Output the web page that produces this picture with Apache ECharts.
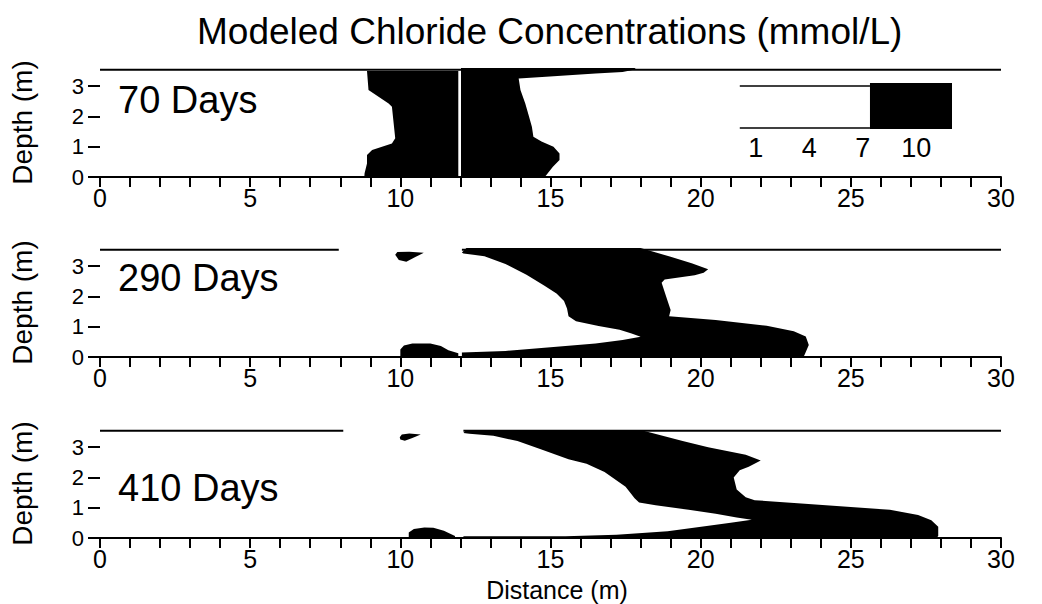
<!DOCTYPE html>
<html>
<head>
<meta charset="utf-8">
<script src="https://cdn.jsdelivr.net/npm/echarts@6/dist/echarts.min.js"></script>
<style>
    html, body { margin: 0; padding: 0; background: #fff; }
    #chart { width: 1042px; height: 604px; }
</style>
</head>
<body>
<div id="chart"></div>
<script>
const panelNames = ['70 Days', '290 Days', '410 Days'];
const depthTicks = [0, 1, 2, 3];
const legendLevels = [1, 4, 7, 10];
// [from, to, class] 0 = below 7 mmol/L, 1 = above
const legendSteps = [[0.1, 7.4, 0], [7.4, 12, 1]];
const topDepth = 3.54;

// water table line segments [fromX, toX]
const topLine70 = [[0.0, 30]];
const topLine290 = [[0.0, 7.95], [12.05, 30]];
const topLine410 = [[0.0, 8.1], [12.1, 30]];

// high concentration zones, [distance, depth]
const plume70Left = [[8.89, 3.5], [11.93, 3.5], [11.93, 0], [8.8, 0], [8.81, 0.12], [8.89, 0.45], [8.89, 0.73],
    [9.06, 0.89], [9.72, 1.11], [9.83, 1.28], [9.72, 2.32], [9.61, 2.43], [8.94, 2.87]];
const plume70Right = [[12.02, 3.6], [17.8, 3.6], [17.85, 3.56], [17.4, 3.47], [16.5, 3.42], [14.85, 3.31], [13.94, 3.25],
    [14.0, 2.87], [14.16, 2.43], [14.27, 2.05], [14.38, 1.66], [14.43, 1.33], [14.7, 1.17], [15.1, 1.0],
    [15.3, 0.78], [15.3, 0.56], [15.08, 0.34], [14.85, 0.05], [14.8, 0], [12.02, 0]];

const plume290Top = [[9.83, 3.38], [9.9, 3.47], [10.3, 3.48], [10.78, 3.44], [10.5, 3.3], [10.2, 3.15], [9.95, 3.2]];
const plume290Bottom = [[10.0, 0], [10.0, 0.25], [10.12, 0.38], [10.4, 0.45], [11.0, 0.45], [11.35, 0.36],
    [11.6, 0.22], [11.93, 0.12], [11.93, 0]];
const plume290Main = [[12.05, 3.45], [12.2, 3.6], [18.0, 3.6], [19.0, 3.31], [19.7, 3.1], [20.25, 2.9], [20.1, 2.78],
    [19.8, 2.7], [18.8, 2.56], [18.7, 2.45], [18.85, 2.0], [19.0, 1.55], [18.95, 1.35], [20.5, 1.22], [22.2, 1.03],
    [23.1, 0.85], [23.5, 0.68], [23.6, 0.4], [23.45, 0.05], [23.4, 0], [12.05, 0], [12.05, 0.15], [13.5, 0.2],
    [15.0, 0.32], [16.5, 0.45], [17.4, 0.56], [18.0, 0.67], [17.7, 0.78], [17.3, 0.9], [16.6, 1.02], [15.85, 1.18],
    [15.6, 1.35], [15.55, 1.6], [15.45, 1.85], [15.2, 2.1], [14.8, 2.35], [14.2, 2.72], [13.5, 3.07], [12.8, 3.33],
    [12.1, 3.42]];

const plume410Top = [[9.98, 3.33], [10.05, 3.42], [10.3, 3.45], [10.68, 3.42], [10.4, 3.3], [10.15, 3.21], [10.0, 3.25]];
const plume410Bottom = [[10.28, 0], [10.28, 0.18], [10.45, 0.3], [10.8, 0.35], [11.1, 0.34], [11.45, 0.24],
    [11.82, 0.07], [11.82, 0]];
const plume410Main = [[12.1, 3.47], [12.2, 3.57], [18.0, 3.57], [19.4, 3.2], [20.25, 3.0], [21.5, 2.75], [22.0, 2.56],
    [21.6, 2.35], [21.3, 2.24], [21.1, 2.0], [21.2, 1.6], [21.5, 1.35], [21.8, 1.25], [23.35, 1.14], [25.0, 1.02],
    [26.3, 0.93], [27.24, 0.76], [27.68, 0.59], [27.91, 0.37], [27.91, 0.07], [27.85, 0], [12.1, 0], [12.1, 0.06],
    [13.2, 0.06], [15.5, 0.06], [17.2, 0.11], [18.9, 0.22], [20.2, 0.4], [21.0, 0.5], [21.7, 0.6], [21.2, 0.68],
    [20.5, 0.8], [19.6, 0.93], [18.5, 1.08], [17.95, 1.17], [17.8, 1.31], [17.5, 1.69], [16.8, 2.18], [16.2, 2.45],
    [15.6, 2.6], [14.7, 2.92], [13.9, 3.2], [13.1, 3.38], [12.3, 3.44]];

const panels = [
    { shapes: [plume70Left, plume70Right], top: topLine70 },
    { shapes: [plume290Top, plume290Bottom, plume290Main], top: topLine290 },
    { shapes: [plume410Top, plume410Bottom, plume410Main], top: topLine410 },
];

const font = "'Liberation Sans', Arial, Helvetica, sans-serif";
const gridTops = [68, 248, 429];
const labelTops = [81, 259, 469];

function plumeSeries(shapes, idx) {
    return {
        type: 'custom',
        xAxisIndex: idx,
        yAxisIndex: idx,
        silent: true,
        clip: true,
        data: shapes.map((s, i) => [s[0][0], s[0][1], i]),
        encode: { x: 0, y: 1 },
        renderItem: (params, api) => ({
            type: 'polygon',
            shape: { points: shapes[api.value(2)].map((p) => api.coord(p)) },
            style: { fill: '#000' },
        }),
    };
}

function topLineSeries(segs, idx) {
    return {
        type: 'custom',
        xAxisIndex: idx,
        yAxisIndex: idx,
        silent: true,
        data: segs.map((s) => [s[0], s[1], topDepth]),
        encode: { x: [0, 1], y: 2 },
        renderItem: (params, api) => {
            const a = api.coord([api.value(0), api.value(2)]);
            const b = api.coord([api.value(1), api.value(2)]);
            return {
                type: 'line',
                shape: { x1: a[0], y1: a[1], x2: b[0], y2: b[1] },
                style: { stroke: '#000', lineWidth: 2 },
            };
        },
    };
}

const tickStyle = { color: '#000', width: 2 };
const xAxes = [0, 1, 2].map((i) => ({
    gridIndex: i,
    type: 'value',
    min: 0,
    max: 30,
    interval: 5,
    axisLine: { lineStyle: tickStyle },
    axisTick: { length: 10, lineStyle: tickStyle },
    minorTick: { show: true, splitNumber: 5, length: 10, lineStyle: tickStyle },
    splitLine: { show: false },
    axisLabel: { color: '#000', fontSize: 25, margin: 8, fontFamily: font },
}));
const yAxes = [0, 1, 2].map((i) => ({
    gridIndex: i,
    type: 'value',
    min: 0,
    max: 3.6,
    axisLine: { show: false },
    axisTick: { show: true, length: 12, customValues: depthTicks, lineStyle: tickStyle },
    axisLabel: { customValues: depthTicks, color: '#000', fontSize: 22, margin: 16, fontFamily: font },
    splitLine: { show: false },
    name: 'Depth (m)',
    nameLocation: 'middle',
    nameGap: 64,
    nameTextStyle: { color: '#000', fontSize: 28, fontFamily: font },
}));

// colour scale
xAxes.push({
    gridIndex: 3,
    type: 'value',
    min: 0,
    max: 12,
    axisLine: { show: false },
    axisTick: { show: false },
    splitLine: { show: false },
    axisLabel: { customValues: legendLevels, color: '#000', fontSize: 27, margin: 5, fontFamily: font },
});
yAxes.push({ gridIndex: 3, type: 'value', min: 0, max: 1, show: false });

const series = [];
panels.forEach((p, i) => {
    series.push(plumeSeries(p.shapes, i));
    series.push(topLineSeries(p.top, i));
});
series.push({
    type: 'custom',
    xAxisIndex: 3,
    yAxisIndex: 3,
    silent: true,
    data: legendSteps,
    encode: { x: [0, 1] },
    renderItem: (params, api) => {
        const p0 = api.coord([api.value(0), 1]);
        const p1 = api.coord([api.value(1), 0]);
        if (api.value(2) === 1) {
            return {
                type: 'rect',
                shape: { x: p0[0], y: p0[1], width: p1[0] - p0[0], height: p1[1] - p0[1] },
                style: { fill: '#000' },
            };
        }
        return {
            type: 'group',
            children: [
                { type: 'line', shape: { x1: p0[0], y1: p0[1] + 3, x2: p1[0], y2: p0[1] + 3 }, style: { stroke: '#000', lineWidth: 1.5 } },
                { type: 'line', shape: { x1: p0[0], y1: p1[1] - 1, x2: p1[0], y2: p1[1] - 1 }, style: { stroke: '#000', lineWidth: 1.5 } },
            ],
        };
    },
});

const chart = echarts.init(document.getElementById('chart'), null, { renderer: 'svg' });
chart.setOption({
    animation: false,
    backgroundColor: '#fff',
    title: [
        {
            text: 'Modeled Chloride Concentrations (mmol/L)',
            left: 197,
            top: 13,
            padding: 0,
            textStyle: { fontSize: 37, fontWeight: 'normal', color: '#000', fontFamily: font },
        },
    ].concat(panelNames.map((n, i) => ({
        text: n,
        left: 118,
        top: labelTops[i],
        padding: 0,
        textStyle: { fontSize: 38, fontWeight: 'normal', color: '#000', fontFamily: font },
    }))),
    grid: gridTops.map((t) => ({ left: 100, width: 901, top: t, height: 109 }))
        .concat([{ left: 738, width: 214, top: 83, height: 46 }]),
    xAxis: xAxes,
    yAxis: yAxes,
    series: series,
    graphic: [
        {
            type: 'text',
            x: 557,
            y: 590,
            style: { text: 'Distance (m)', fontSize: 25, fontFamily: font, fill: '#000', align: 'center', verticalAlign: 'middle' },
        },
    ],
});
</script>
</body>
</html>
